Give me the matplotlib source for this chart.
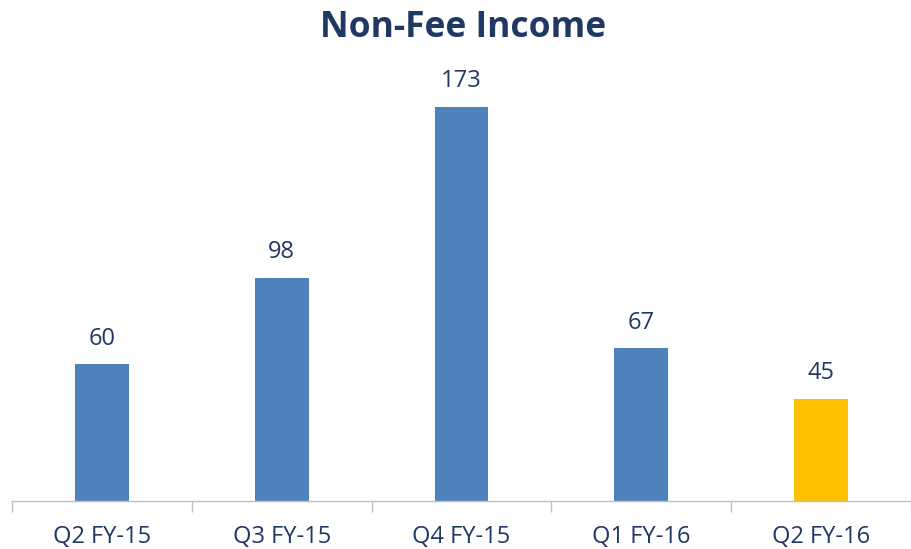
import matplotlib.pyplot as plt

categories = ['Q2 FY-15', 'Q3 FY-15', 'Q4 FY-15', 'Q1 FY-16', 'Q2 FY-16']
values = [60, 98, 173, 67, 45]
bar_colors = ['#4F81BD', '#4F81BD', '#4F81BD', '#4F81BD', '#FFC000']

navy = '#1F3864'
plt.rcParams['font.family'] = ['Open Sans', 'DejaVu Sans']

fig = plt.figure(figsize=(9.11, 5.49), dpi=100)
ax = fig.add_axes([12 / 911, 48 / 549, 899 / 911, 441 / 549])

x = range(len(categories))
ax.bar(x, values, width=0.3, color=bar_colors)
for i, v in enumerate(values):
    ax.text(i, v + 6, str(v), ha='center', va='bottom', fontsize=17, color=navy)

ax.set_xlim(-0.5, len(categories) - 0.5)
ax.set_ylim(0, 193.7)
ax.set_yticks([])
for s in ['top', 'right', 'left']:
    ax.spines[s].set_visible(False)
ax.spines['bottom'].set_color('#BFBFBF')
ax.spines['bottom'].set_linewidth(1)

ax.set_xticks(list(x))
ax.set_xticklabels(categories, fontsize=17, color=navy)
ax.tick_params(axis='x', which='major', length=0, pad=17)
ax.set_xticks([i - 0.5 for i in range(len(categories) + 1)], minor=True)
ax.tick_params(axis='x', which='minor', length=8, color='#BFBFBF', width=1)

fig.text(463 / 911, 1 - 28 / 549, 'Non-Fee Income', ha='center', va='center',
         fontsize=25.5, fontweight='bold', color=navy)

fig.savefig('out.png', dpi=100)
